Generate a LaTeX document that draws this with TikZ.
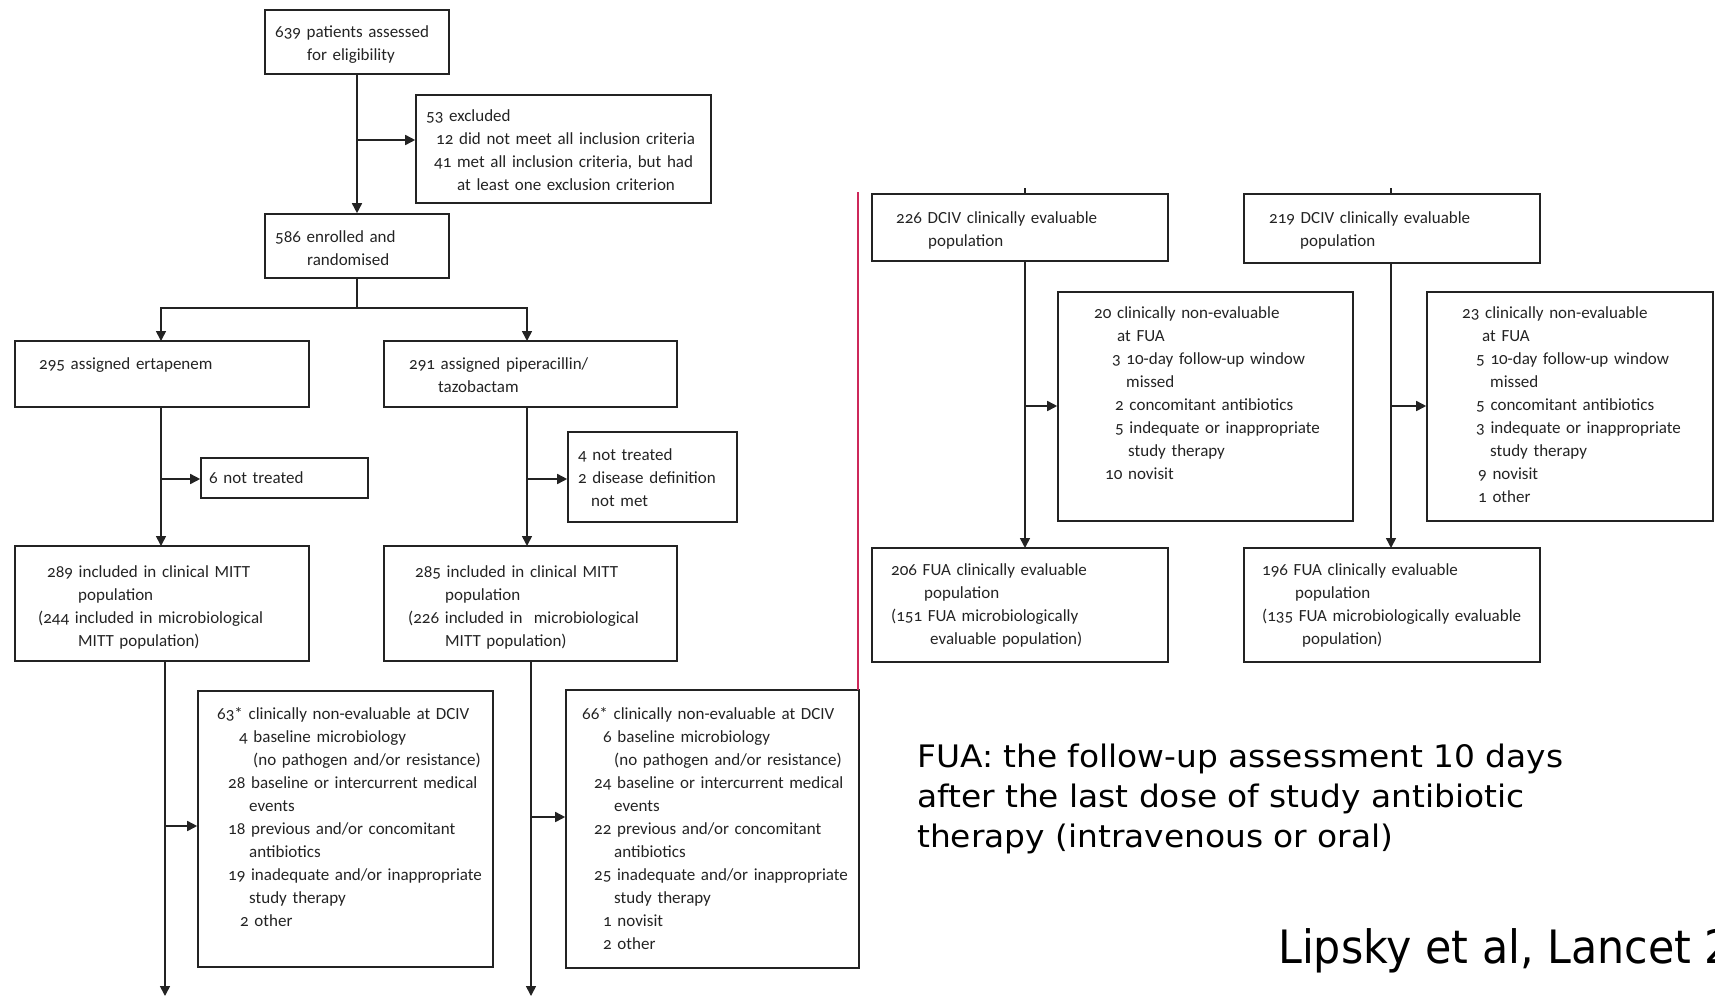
\documentclass[tikz,border=0pt]{standalone}
\usepackage{fontspec}
\setmainfont[Numbers=OldStyle]{Carlito}
\newfontfamily\notefont[FakeStretch=1.06]{DejaVu Sans}
\newfontfamily\citefont[FakeStretch=0.93]{DejaVu Sans}
\usetikzlibrary{arrows.meta,fit}

\definecolor{ink}{RGB}{35,35,35}
\definecolor{divider}{RGB}{205,40,90}

\tikzset{
  box/.style={draw=ink, line width=1.6pt, rectangle, inner sep=0pt},
  txt/.style={anchor=base west, inner sep=0pt, text width=320pt, align=left,
              font=\fontsize{17}{23}\selectfont, text=ink},
  link/.style={draw=ink, line width=1.6pt},
  arr/.style={link, -{Triangle[length=10pt,width=10pt]}},
}

\begin{document}
\begin{tikzpicture}[x=1pt, y=-1pt]
\useasboundingbox (0,0) rectangle (1715,996);

% ---------- boxes ----------
\node[box, fit={(265,10) (449,74)}]    (b639) {};
\node[box, fit={(416,95) (711,203)}]   (bexc) {};
\node[box, fit={(265,214) (449,278)}]  (b586) {};
\node[box, fit={(15,341) (309,407)}]   (b295) {};
\node[box, fit={(384,341) (677,407)}]  (b291) {};
\node[box, fit={(201,458) (368,498)}]  (b6)   {};
\node[box, fit={(568,432) (737,522)}]  (b4)   {};
\node[box, fit={(15,546) (309,661)}]   (b289) {};
\node[box, fit={(384,546) (677,661)}]  (b285) {};
\node[box, fit={(198,691) (493,967)}]  (b63)  {};
\node[box, fit={(566,690) (859,968)}]  (b66)  {};

\node[box, fit={(872,194) (1168,261)}]   (b226) {};
\node[box, fit={(1244,194) (1540,263)}]  (b219) {};
\node[box, fit={(1058,292) (1353,521)}]  (b20)  {};
\node[box, fit={(1427,292) (1713,521)}]  (b23)  {};
\node[box, fit={(872,548) (1168,662)}]   (b206) {};
\node[box, fit={(1244,548) (1540,662)}]  (b196) {};

% ---------- texts ----------
\node[txt] (t639) at (275,37.5) {639 patients assessed\\\hspace*{32pt}for eligibility};
\node[txt] (texc) at (426,121.5) {53 excluded\\\hspace*{10pt}12 did not meet all inclusion criteria\\\hspace*{8pt}41 met all inclusion criteria, but had\\\hspace*{31pt}at least one exclusion criterion};
\node[txt] (t586) at (275,242) {586 enrolled and\\\hspace*{32pt}randomised};
\node[txt] (t295) at (39,369.5) {295 assigned ertapenem};
\node[txt] (t291) at (409,369.5) {291 assigned piperacillin/\\\hspace*{29pt}tazobactam};
\node[txt] (t6) at (209,483) {6 not treated};
\node[txt] (t4) at (578,460) {4 not treated\\2 disease definition\\\hspace*{13pt}not met};
\node[txt] (t289) at (38,577) {\hspace*{9pt}289 included in clinical MITT\\\hspace*{40pt}population\\(244 included in microbiological\\\hspace*{40pt}MITT population)};
\node[txt] (t285) at (408,577) {\hspace*{7pt}285 included in clinical MITT\\\hspace*{37pt}population\\(226 included in\ \ microbiological\\\hspace*{37pt}MITT population)};
\node[txt] (t63) at (217,719) {63* clinically non-evaluable at DCIV\\
  \hspace*{22pt}4 baseline microbiology\\
  \hspace*{36pt}(no pathogen and/or resistance)\\
  \hspace*{11pt}28 baseline or intercurrent medical\\
  \hspace*{32pt}events\\
  \hspace*{11pt}18 previous and/or concomitant\\
  \hspace*{32pt}antibiotics\\
  \hspace*{11pt}19 inadequate and/or inappropriate\\
  \hspace*{32pt}study therapy\\
  \hspace*{23pt}2 other};
\node[txt] (t66) at (582,719) {66* clinically non-evaluable at DCIV\\
  \hspace*{21pt}6 baseline microbiology\\
  \hspace*{32pt}(no pathogen and/or resistance)\\
  \hspace*{12pt}24 baseline or intercurrent medical\\
  \hspace*{32pt}events\\
  \hspace*{12pt}22 previous and/or concomitant\\
  \hspace*{32pt}antibiotics\\
  \hspace*{12pt}25 inadequate and/or inappropriate\\
  \hspace*{32pt}study therapy\\
  \hspace*{21pt}1 novisit\\
  \hspace*{21pt}2 other};

\node[txt] (t226) at (896,223) {226 DCIV clinically evaluable\\\hspace*{32pt}population};
\node[txt] (t219) at (1269,223) {219 DCIV clinically evaluable\\\hspace*{31pt}population};
\node[txt] (t20) at (1094,318) {20 clinically non-evaluable\\
  \hspace*{23pt}at FUA\\
  \hspace*{18pt}3 10-day follow-up window\\
  \hspace*{32pt}missed\\
  \hspace*{21pt}2 concomitant antibiotics\\
  \hspace*{21pt}5 indequate or inappropriate\\
  \hspace*{34pt}study therapy\\
  \hspace*{11pt}10 novisit};
\node[txt] (t23) at (1462,318) {23 clinically non-evaluable\\
  \hspace*{20pt}at FUA\\
  \hspace*{14pt}5 10-day follow-up window\\
  \hspace*{28pt}missed\\
  \hspace*{14pt}5 concomitant antibiotics\\
  \hspace*{14pt}3 indequate or inappropriate\\
  \hspace*{28pt}study therapy\\
  \hspace*{16pt}9 novisit\\
  \hspace*{16pt}1 other};
\node[txt] (t206) at (891,575) {206 FUA clinically evaluable\\\hspace*{33pt}population\\(151 FUA microbiologically\\\hspace*{39pt}evaluable population)};
\node[txt] (t196) at (1262,575) {196 FUA clinically evaluable\\\hspace*{33pt}population\\(135 FUA microbiologically evaluable\\\hspace*{40pt}population)};

\node[anchor=base west, inner sep=0pt, text width=800pt, align=left,
      font=\notefont\fontsize{31}{40}\selectfont] (note) at (917,767)
  {FUA: the follow-up assessment 10 days\\after the last dose of study antibiotic\\therapy (intravenous or oral)};
\node[anchor=base west, inner sep=0pt, font=\citefont\fontsize{46}{55}\selectfont]
  (cite) at (1278,963) {Lipsky et al, Lancet 2005};

% ---------- junction points ----------
\coordinate (jexc) at (357,140);
\coordinate (split) at (357,308);
\coordinate (in295) at (161,341);
\coordinate (in291) at (527,341);
\coordinate (out295) at (161,407);
\coordinate (in289) at (161,546);
\coordinate (j295) at (161,479);
\coordinate (out291) at (527,407);
\coordinate (in285) at (527,546);
\coordinate (j291) at (527,479);
\coordinate (out289) at (165,661);
\coordinate (end289) at (165,996);
\coordinate (j289) at (165,826);
\coordinate (out285) at (531,661);
\coordinate (end285) at (531,996);
\coordinate (j285) at (531,817);

\coordinate (s226) at (1025,188);
\coordinate (out226) at (1025,261);
\coordinate (in206) at (1025,548);
\coordinate (j226) at (1025,406);
\coordinate (s219) at (1391,188);
\coordinate (out219) at (1391,263);
\coordinate (in196) at (1391,548);
\coordinate (j219) at (1391,406);

\coordinate (redtop) at (858,192);
\coordinate (redbot) at (858,690);

% ---------- connectors ----------
\draw[arr] (b639.south) -- (b586.north);
\draw[arr] (jexc) -- (jexc -| bexc.west);
\draw[link] (b586.south) -- (split);
\draw[arr] (split) -| (in295);
\draw[arr] (split) -| (in291);
\draw[arr] (out295) -- (in289);
\draw[arr] (j295) -- (j295 -| b6.west);
\draw[arr] (out291) -- (in285);
\draw[arr] (j291) -- (j291 -| b4.west);
\draw[arr] (out289) -- (end289);
\draw[arr] (j289) -- (j289 -| b63.west);
\draw[arr] (out285) -- (end285);
\draw[arr] (j285) -- (j285 -| b66.west);

\draw[link] (s226) -- (s226 |- b226.north);
\draw[link] (s219) -- (s219 |- b219.north);
\draw[arr] (out226) -- (in206);
\draw[arr] (j226) -- (j226 -| b20.west);
\draw[arr] (out219) -- (in196);
\draw[arr] (j219) -- (j219 -| b23.west);

\draw[draw=divider, line width=1.4pt] (redtop) -- (redbot);
\end{tikzpicture}
\end{document}
